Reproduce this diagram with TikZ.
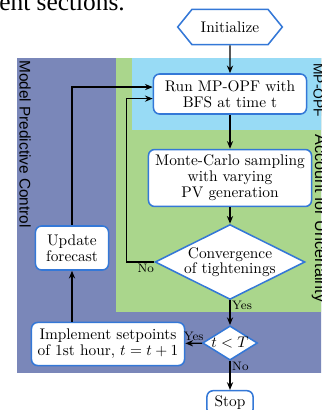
\documentclass[tikz,border=0pt]{standalone}
\usepackage{fontspec}
\usepackage{amsmath, amssymb}
\usetikzlibrary{shapes.geometric,shapes.symbols,arrows.meta}
\newfontfamily\sidefont{Liberation Sans}
\newfontfamily\pagefont{Liberation Serif}
\definecolor{mpcblue}{RGB}{122,135,185}
\definecolor{uncgreen}{RGB}{170,214,140}
\definecolor{opfblue}{RGB}{152,219,245}
\definecolor{edgeblue}{RGB}{52,120,215}

\begin{document}
\begin{tikzpicture}[x=0.65pt,y=-0.65pt,
  box/.style={rectangle,rounded corners=4pt,draw=edgeblue,fill=white,line width=1pt,align=center,inner xsep=2pt,inner ysep=3pt,font=\fontsize{10}{10.5}\selectfont},
  decision/.style={diamond,draw=edgeblue,fill=white,line width=1pt,align=center,font=\fontsize{10}{9.5}\selectfont},
  sidelabel/.style={rotate=-90,inner sep=0pt,font=\sidefont\fontsize{10}{12}\selectfont},
  flow/.style={-{Stealth[length=5pt,width=4pt]},line width=0.9pt},
  tag/.style={font=\footnotesize,inner sep=1pt}]
\useasboundingbox (0,0) rectangle (321,410);
\clip (0,0) rectangle (321,410);
% background regions
\fill[mpcblue] (17,58) rectangle (330,373);
\fill[uncgreen] (116,58) rectangle (330,312);
\fill[opfblue] (132,58) rectangle (330,130);
\node[anchor=base west,inner sep=0pt,font=\pagefont\fontsize{16.5}{18}\selectfont] at (-1,11) (page) {ent sections.};
\node[sidelabel,anchor=west] at (25,60) (mpc) {Model Predictive Control};
\node[sidelabel,anchor=base west,font=\sidefont\fontsize{9}{10}\selectfont] at (313.5,63) (opf) {MP-OPF};
\node[sidelabel,anchor=base west,font=\sidefont\fontsize{10.5}{12}\selectfont] at (315,134) (unc) {Account for Uncertainty};
% flow chart
\node[signal,signal to=west and east,signal pointer angle=102,draw=edgeblue,fill=white,line width=1pt,minimum width=68pt,minimum height=23pt,inner sep=1pt] at (230,27) (init) {Initialize};
\node[box,minimum width=99.5pt,minimum height=26pt] at (230,94) (run) {Run MP-OPF with\\BFS at time t};
\node[box,minimum width=106pt,minimum height=37pt] at (230,178) (monte) {Monte-Carlo sampling\\with varying\\PV generation};
\node[decision,aspect=2,inner sep=-1pt,minimum width=97.5pt,minimum height=48.75pt] at (230,262) (conv) {Convergence\\of tightenings};
\node[decision,aspect=1.6,inner sep=0pt,minimum width=35pt,minimum height=21.5pt] at (230,343) (tlt) {$t<T$};
\node[box,minimum width=99.5pt,minimum height=28pt] at (108,344) (impl) {Implement setpoints\\of 1st hour, $t=t+1$};
\node[box,minimum width=47.5pt,minimum height=28.6pt] at (72,248) (upd) {Update\\forecast};
\node[box,minimum width=30pt,minimum height=16pt,inner ysep=2pt] at (230,403) (stop) {Stop};
\draw[flow] (init) -- (run);
\draw[flow] (run) -- (monte);
\draw[flow] (monte) -- (conv);
\draw[flow] (conv) -- node[tag,pos=0.22,right] (yes1) {Yes} (tlt);
\draw[flow] (tlt) -- node[tag,pos=0.2,right] (no2) {No} (stop);
\draw[flow] (tlt) -- node[tag,midway,above] (yes2) {Yes} (impl);
\draw[flow] (impl.north -| upd.south) -- (upd.south);
\draw[flow] (upd.north) |- ([yshift=4.5pt]run.west);
\draw[flow] (conv.west) -- node[tag,pos=0.3,below] (no1) {No} ++(-28,0) |- ([yshift=-3pt]run.west);
\end{tikzpicture}
\end{document}
